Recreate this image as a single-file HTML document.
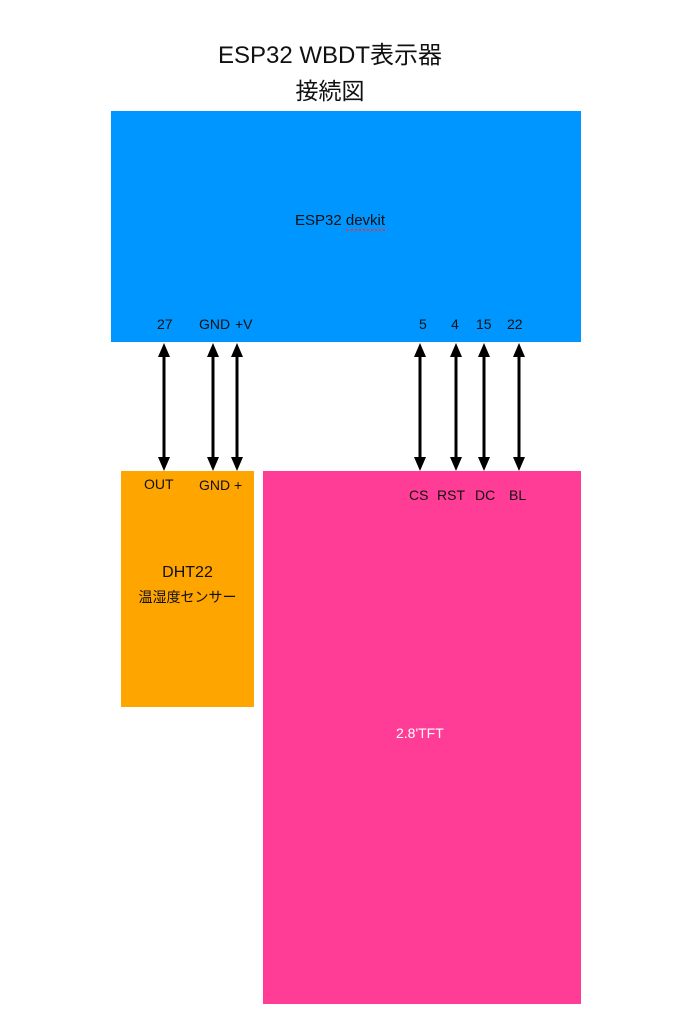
<!DOCTYPE html>
<html><head><meta charset="utf-8"><style>
html,body{margin:0;padding:0;background:#fff;}
body{width:673px;height:1014px;position:relative;overflow:hidden;font-family:"Liberation Sans","Noto Sans CJK JP",sans-serif;color:#111;}
.a{position:absolute;white-space:nowrap;}
.box{position:absolute;}
</style></head><body>
<div class="a" style="left:0;width:660px;top:35px;text-align:center;font-size:24px;">ESP32 WBDT表示器</div>
<div class="a" style="left:0;width:660px;top:72px;text-align:center;font-size:23px;">接続図</div>

<div class="box" style="left:111px;top:111px;width:470px;height:231px;background:#0096ff;"></div>
<div class="a" style="left:295px;top:212px;font-size:15px;">ESP32 <span style="border-bottom:2px dotted #e33;">devkit</span></div>
<div class="a" style="left:157px;top:316px;font-size:14px;">27</div>
<div class="a" style="left:199px;top:316px;font-size:14px;">GND</div>
<div class="a" style="left:235px;top:316px;font-size:14px;">+V</div>
<div class="a" style="left:419px;top:316px;font-size:14px;">5</div>
<div class="a" style="left:451px;top:316px;font-size:14px;">4</div>
<div class="a" style="left:476px;top:316px;font-size:14px;">15</div>
<div class="a" style="left:507px;top:316px;font-size:14px;">22</div>

<div class="box" style="left:121px;top:471px;width:133px;height:236px;background:#ffa500;"></div>
<div class="a" style="left:144px;top:476px;font-size:14px;">OUT</div>
<div class="a" style="left:199px;top:477px;font-size:14px;">GND +</div>
<div class="a" style="left:121px;width:133px;text-align:center;top:564px;font-size:16px;">DHT22</div>
<div class="a" style="left:121px;width:133px;text-align:center;top:587px;font-size:14px;">温湿度センサー</div>

<div class="box" style="left:263px;top:471px;width:318px;height:533px;background:#ff3d96;"></div>
<div class="a" style="left:409px;top:487px;font-size:14px;">CS</div>
<div class="a" style="left:437px;top:487px;font-size:14px;">RST</div>
<div class="a" style="left:475px;top:487px;font-size:14px;">DC</div>
<div class="a" style="left:509px;top:487px;font-size:14px;">BL</div>
<div class="a" style="left:396px;top:725px;font-size:14px;color:#fff;">2.8'TFT</div>

<svg class="a" style="left:0;top:0" width="673" height="1014">
<g stroke="#000" stroke-width="3" fill="#000">
<line x1="164" y1="355" x2="164" y2="460"/><polygon points="164,343 158,357 170,357" stroke="none"/><polygon points="164,471 158,457 170,457" stroke="none"/>
<line x1="213" y1="355" x2="213" y2="460"/><polygon points="213,343 207,357 219,357" stroke="none"/><polygon points="213,471 207,457 219,457" stroke="none"/>
<line x1="237" y1="355" x2="237" y2="460"/><polygon points="237,343 231,357 243,357" stroke="none"/><polygon points="237,471 231,457 243,457" stroke="none"/>
<line x1="420" y1="355" x2="420" y2="460"/><polygon points="420,343 414,357 426,357" stroke="none"/><polygon points="420,471 414,457 426,457" stroke="none"/>
<line x1="456" y1="355" x2="456" y2="460"/><polygon points="456,343 450,357 462,357" stroke="none"/><polygon points="456,471 450,457 462,457" stroke="none"/>
<line x1="484" y1="355" x2="484" y2="460"/><polygon points="484,343 478,357 490,357" stroke="none"/><polygon points="484,471 478,457 490,457" stroke="none"/>
<line x1="519" y1="355" x2="519" y2="460"/><polygon points="519,343 513,357 525,357" stroke="none"/><polygon points="519,471 513,457 525,457" stroke="none"/>
</g></svg>
</body></html>
